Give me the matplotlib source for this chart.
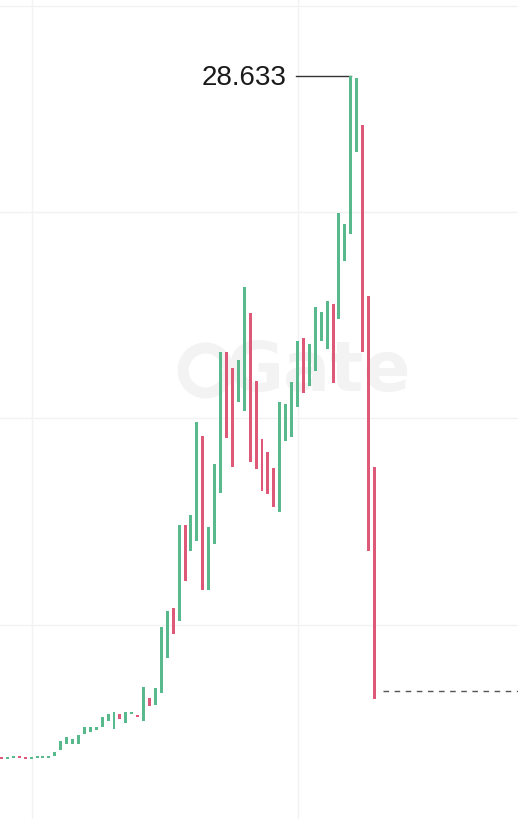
import matplotlib
matplotlib.use("Agg")
import matplotlib.pyplot as plt

# ---- data (price values) ----
opens = [15.43, 15.40, 15.41, 15.44, 15.43, 15.40, 15.41, 15.41, 15.42, 15.45,
         15.56, 15.69, 15.69, 15.69, 15.88, 15.91, 15.96, 16.01, 16.14, 15.98,
         16.27, 16.09, 16.27, 16.25, 16.14, 16.57, 16.44, 16.67, 17.35, 18.32,
         18.07, 19.93, 19.43, 19.62, 21.66, 18.67, 19.56, 20.55, 23.29, 22.98,
         22.32, 22.14, 24.04, 22.72, 21.60, 21.35, 21.04, 20.18, 21.56, 21.64,
         22.22, 23.56, 22.63, 22.92, 23.50, 23.34, 24.22, 23.93, 25.05, 25.57,
         27.16, 27.69, 24.37, 21.06]
closes = [15.40, 15.43, 15.44, 15.41, 15.40, 15.43, 15.44, 15.44, 15.45, 15.53,
          15.75, 15.82, 15.78, 15.85, 16.01, 16.01, 16.01, 16.20, 16.27, 16.31,
          16.17, 16.31, 16.30, 16.20, 16.80, 16.42, 16.78, 17.95, 18.26, 17.82,
          19.93, 18.85, 20.13, 21.93, 18.67, 19.89, 21.11, 23.29, 21.62, 21.06,
          23.13, 24.55, 21.15, 21.02, 20.59, 20.53, 20.28, 22.32, 22.28, 22.70,
          23.50, 22.49, 23.44, 24.16, 24.06, 24.27, 22.68, 25.98, 25.77, 28.633,
          28.60, 23.29, 19.43, 16.56]
last_price = 16.71
price_grid = [30, 26, 22, 18]
time_grid = [5.15, 50.08]

UP = "#58b98c"
DOWN = "#de5878"

fig = plt.figure(figsize=(5.18, 8.20), dpi=100)
ax = fig.add_axes([0, 0, 1, 1])
ax.set_xlim(-0.253, 87.24)
ax.set_ylim(14.231, 30.130)
for s in ax.spines.values():
    s.set_visible(False)
ax.set_xticks(time_grid)
ax.set_yticks(price_grid)
ax.tick_params(length=0, labelleft=False, labelbottom=False)
ax.grid(True, color="#f2f2f2", linewidth=1.0, zorder=0)
ax.set_axisbelow(True)

# watermark
ax.scatter([0.397], [0.547], s=1050, facecolors="none", edgecolors="#f3f3f3",
           linewidths=8, transform=ax.transAxes, zorder=1)
ax.text(0.438, 0.547, "Gate", transform=ax.transAxes, fontsize=50,
        fontweight="bold", family="DejaVu Sans", color="#f3f3f3",
        ha="left", va="center", zorder=1)

idx = list(range(len(opens)))
bottoms = [min(o, c) for o, c in zip(opens, closes)]
heights = [max(abs(c - o), 0.04) for o, c in zip(opens, closes)]
colors = [UP if c >= o else DOWN for o, c in zip(opens, closes)]
ax.bar(idx, heights, bottom=bottoms, width=0.5, color=colors, zorder=3,
       linewidth=0)

# max annotation
highs = [max(o, c) for o, c in zip(opens, closes)]
imax = highs.index(max(highs))
hmax = highs[imax]
ax.plot([49.74, imax], [hmax, hmax], color="#333333", linewidth=1.0, zorder=2)
ax.text(48.21, hmax - 0.02, f"{hmax:.3f}", fontsize=20, family="Liberation Sans",
        color="#1a1a1a", ha="right", va="center", zorder=4)

# last price dashed line
ax.plot([64.4, 87.3], [last_price, last_price], color="#555555", linewidth=1.0,
        dashes=(4, 4), zorder=2)

fig.savefig("out.png", dpi=100)
